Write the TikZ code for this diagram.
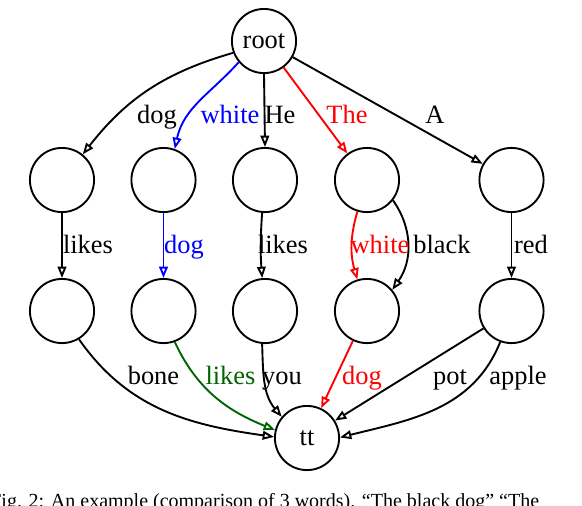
\documentclass[tikz,border=0pt]{standalone}
\usepackage{fontspec}
\setmainfont{Liberation Serif}
\usetikzlibrary{arrows.meta}
\definecolor{gvblue}{RGB}{0,0,255}
\definecolor{gvred}{RGB}{255,0,0}
\definecolor{gvgreen}{RGB}{0,100,0}
\begin{document}
\begin{tikzpicture}[x=0.53pt,y=-0.53pt,
  st/.style={circle,draw,line width=1pt,minimum size=34pt,inner sep=0pt,font=\fontsize{14}{16}\selectfont},
  ed/.style={line width=1pt,-{Triangle[open,length=6pt,width=4.6pt]}},
  lb/.style={anchor=base,inner sep=0pt,font=\fontsize{14}{16}\selectfont}]
\useasboundingbox (0,0) rectangle (582,506);
% nodes
\node[st] (root) at (264,41) {root};
\node[st] (a1) at (62,180) {};
\node[st] (b1) at (163.5,180) {};
\node[st] (c1) at (265,180) {};
\node[st] (d1) at (367,180) {};
\node[st] (e1) at (511.5,180) {};
\node[st] (a2) at (62,311) {};
\node[st] (b2) at (163.5,311) {};
\node[st] (c2) at (265,311) {};
\node[st] (d2) at (367,311) {};
\node[st] (e2) at (511.5,311) {};
\node[st] (tt) at (307,438) {tt};
% top edges
\draw[ed] (root.201) to[out=196,in=52] (a1.51);
\draw[ed,gvblue] (root.220) to[out=228,in=78] (b1.70);
\draw[ed] (root.-90) -- (c1.90);
\draw[ed,gvred] (root) -- (d1);
\draw[ed] (root) -- (e1);
\node[lb] (l1) at (157,123) {dog};
\node[lb,text=gvblue] (l2) at (230,123) {white};
\node[lb] (l3) at (280,123) {He};
\node[lb,text=gvred] (l4) at (347,123) {The};
\node[lb] (l5) at (435,123) {A};
% middle edges
\draw[ed] (a1) -- (a2);
\draw[ed,gvblue] (b1) -- (b2);
\draw[ed] (c1.-95) to[bend right=4] (c2.95);
\draw[ed,gvred] (d1.-107) to[bend right=16] (d2.107);
\draw[ed] (d1.-38) to[out=-55,in=55] (d2.40);
\draw[ed] (e1) -- (e2);
\node[lb] (m1) at (88,253) {likes};
\node[lb,text=gvblue] (m2) at (184,253) {dog};
\node[lb] (m3) at (283,253) {likes};
\node[lb,text=gvred] (m4) at (380,253) {white};
\node[lb] (m5) at (442,253) {black};
\node[lb] (m6) at (531,253) {red};
% bottom edges
\draw[ed] (a2.-59) to[out=-55,in=172] (tt.178);
\draw[ed,gvgreen] (b2.-70) to[out=-65,in=158] (tt.166);
\draw[ed] (c2.-95) to[out=-88,in=130] (tt.140);
\draw[ed,gvred] (d2) -- (tt);
\draw[ed] (e2) -- (tt);
\draw[ed] (e2.-110) to[out=-112,in=14] (tt.1);
\node[lb] (n1) at (153.5,384) {bone};
\node[lb,text=gvgreen] (n2) at (230.5,384) {likes};
\node[lb] (n3) at (282,384) {you};
\node[lb,text=gvred] (n4) at (362,384) {dog};
\node[lb] (n5) at (450,384) {pot};
\node[lb] (n6) at (518,384) {apple};
% cropped caption (only its top is inside the picture)
\begin{scope}
\clip (0,0) rectangle (582,506);
\node[anchor=base west,inner sep=0pt,font=\fontsize{10.6}{12}\selectfont] (cap) at (-10,507) {Fig. 2: An example (comparison of 3 words). “The black dog” “The};
\end{scope}
\end{tikzpicture}
\end{document}
